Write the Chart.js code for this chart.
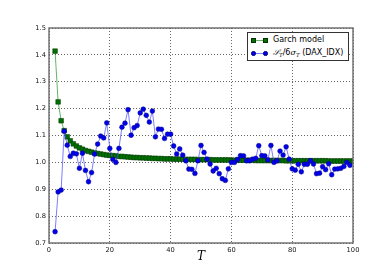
<!DOCTYPE html>
<html>
<head>
<meta charset="utf-8">
<script src="https://cdn.jsdelivr.net/npm/chart.js@4.4.1/dist/chart.umd.min.js"></script>
<style>
  html, body { margin: 0; padding: 0; background: #fff; }
  #wrap { position: relative; width: 392px; height: 278px; }
  #legend {
    position: absolute; left: 247px; top: 32px; width: 102px; height: 29px;
    box-sizing: border-box; border: 1px solid #333; background: #fff;
    font-family: 'DejaVu Sans', sans-serif; font-size: 8px; color: #000;
  }
  .sample { position: absolute; left: 5px; width: 12px; height: 1px; }
  .mk { position: absolute; width: 4.5px; height: 4.5px; box-sizing: border-box; }
  .lbl { position: absolute; left: 25px; line-height: 10px; white-space: nowrap; }
  .m { font-family: 'DejaVu Serif', serif; font-style: italic; }
  sub { font-size: 5.5px; vertical-align: -2px; }
</style>
</head>
<body>
<div id="wrap">
  <canvas id="chart" width="392" height="278"></canvas>
  <div id="legend">
    <div class="sample" style="top:7px;background:rgba(0,128,0,0.6)"></div>
    <div class="mk" style="left:3px;top:5px;background:#007000;border:0.6px solid #003300"></div>
    <div class="mk" style="left:15px;top:5px;background:#007000;border:0.6px solid #003300"></div>
    <div class="lbl" style="top:2px">Garch model</div>

    <div class="sample" style="top:20px;background:rgba(70,70,255,0.7)"></div>
    <div class="mk" style="left:3px;top:18px;background:#0000ee;border:0.6px solid #000080;border-radius:50%"></div>
    <div class="mk" style="left:15px;top:18px;background:#0000ee;border:0.6px solid #000080;border-radius:50%"></div>
    <div class="lbl" style="top:15px"><span class="m">𝒮</span><sub class="m">T</sub>/6<span class="m">σ</span><sub class="m">T</sub> (DAX_IDX)</div>
  </div>
</div>
<script>
// horizon T
const steps = [
  2, 3, 4, 5, 6, 7, 8, 9, 10, 11,
  12, 13, 14, 15, 16, 17, 18, 19, 20, 21,
  22, 23, 24, 25, 26, 27, 28, 29, 30, 31,
  32, 33, 34, 35, 36, 37, 38, 39, 40, 41,
  42, 43, 44, 45, 46, 47, 48, 49, 50, 51,
  52, 53, 54, 55, 56, 57, 58, 59, 60, 61,
  62, 63, 64, 65, 66, 67, 68, 69, 70, 71,
  72, 73, 74, 75, 76, 77, 78, 79, 80, 81,
  82, 83, 84, 85, 86, 87, 88, 89, 90, 91,
  92, 93, 94, 95, 96, 97, 98, 99, 100
];

// Garch model (T = 2..100)
const garchValues = [
  1.414, 1.225, 1.155, 1.118, 1.095, 1.080, 1.069, 1.061, 1.054, 1.049,
  1.044, 1.041, 1.038, 1.035, 1.033, 1.031, 1.029, 1.027, 1.026, 1.025,
  1.024, 1.022, 1.022, 1.021, 1.020, 1.019, 1.018, 1.018, 1.017, 1.017,
  1.016, 1.016, 1.015, 1.015, 1.014, 1.014, 1.013, 1.013, 1.013, 1.012,
  1.012, 1.012, 1.012, 1.011, 1.011, 1.011, 1.011, 1.010, 1.010, 1.010,
  1.010, 1.010, 1.009, 1.009, 1.009, 1.009, 1.009, 1.009, 1.008, 1.008,
  1.008, 1.008, 1.008, 1.008, 1.008, 1.008, 1.007, 1.007, 1.007, 1.007,
  1.007, 1.007, 1.007, 1.007, 1.007, 1.007, 1.006, 1.006, 1.006, 1.006,
  1.006, 1.006, 1.006, 1.006, 1.006, 1.006, 1.006, 1.006, 1.006, 1.006,
  1.005, 1.005, 1.005, 1.005, 1.005, 1.005, 1.005, 1.005, 1.005
];

// S_T / 6 sigma_T for DAX_IDX (T = 2..99)
const daxValues = [
  0.742, 0.890, 0.897, 1.116, 1.064, 1.022, 1.034, 1.032, 0.978, 1.034,
  0.970, 0.928, 0.962, 1.031, 1.068, 1.098, 1.091, 1.147, 1.052, 1.011,
  1.000, 1.052, 1.131, 1.146, 1.196, 1.101, 1.129, 1.137, 1.184, 1.198,
  1.175, 1.150, 1.191, 1.095, 1.124, 1.123, 1.089, 1.105, 1.105, 1.061,
  1.031, 1.050, 1.027, 1.006, 0.975, 0.974, 0.959, 1.006, 1.063, 1.037,
  1.012, 0.994, 0.968, 0.978, 0.958, 0.939, 0.933, 0.976, 1.000, 1.000,
  1.011, 1.025, 1.024, 1.006, 1.006, 1.012, 1.015, 1.062, 1.025, 1.024,
  1.009, 1.063, 1.000, 1.006, 1.042, 1.027, 1.058, 1.012, 0.976, 0.971,
  0.993, 0.965, 0.993, 0.993, 1.006, 0.994, 0.958, 0.960, 0.984, 0.973,
  0.995, 0.954, 0.975, 0.976, 0.978, 0.985, 1.000, 0.989
];

const xTicks = [0, 20, 40, 60, 80, 100];
const yTicks = [0.7, 0.8, 0.9, 1.0, 1.1, 1.2, 1.3, 1.4, 1.5];

const tickFont = { family: 'DejaVu Sans', size: 6.7 };

// box round the plot area, like matplotlib's spines
const framePlugin = {
  id: 'frame',
  afterDatasetsDraw(chart) {
    const { ctx, chartArea: a } = chart;
    ctx.save();
    ctx.strokeStyle = '#6a6a6a';
    ctx.lineWidth = 1.4;
    ctx.strokeRect(a.left, a.top, a.right - a.left, a.bottom - a.top);
    ctx.restore();
  }
};

const gridOpts = {
  color: 'rgba(0,0,0,0.6)',
  lineWidth: 1,
  drawTicks: false,
};

new Chart(document.getElementById('chart'), {
  type: 'line',
  data: {
    datasets: [
      {
        label: 'Garch model',
        data: steps.map((t, i) => ({ x: t, y: garchValues[i] })),
        borderColor: 'rgba(0,128,0,0.6)',
        borderWidth: 1,
        pointStyle: 'rect',
        pointRadius: 3.3,
        pointBackgroundColor: '#007000',
        pointBorderColor: '#003300',
        pointBorderWidth: 0.5,
        order: 2,
      },
      {
        label: 'S_T/6σ_T (DAX_IDX)',
        data: daxValues.map((v, i) => ({ x: steps[i], y: v })),
        borderColor: 'rgba(70,70,255,0.7)',
        borderWidth: 1,
        pointStyle: 'circle',
        pointRadius: 2.4,
        pointBackgroundColor: '#0000ee',
        pointBorderColor: '#000080',
        pointBorderWidth: 0.5,
        order: 1,
      }
    ]
  },
  options: {
    responsive: false,
    animation: false,
    devicePixelRatio: 1,
    layout: { padding: { top: 28, right: 39, left: 0, bottom: 0 } },
    plugins: {
      legend: { display: false },
      tooltip: { enabled: false },
    },
    scales: {
      x: {
        type: 'linear',
        min: 0,
        max: 100,
        afterFit(scale) { scale.height = 35; },
        afterBuildTicks(scale) { scale.ticks = xTicks.map(v => ({ value: v })); },
        grid: gridOpts,
        border: { display: false, dash: [1, 2] },
        ticks: { color: '#111', font: tickFont, padding: 3 },
        title: {
          display: true,
          text: 'T',
          color: '#000',
          font: { family: 'DejaVu Serif', size: 12, style: 'italic' },
          padding: { top: 0, bottom: 14 },
        }
      },
      y: {
        min: 0.7,
        max: 1.5,
        afterFit(scale) { scale.width = 49; },
        afterBuildTicks(scale) { scale.ticks = yTicks.map(v => ({ value: v })); },
        grid: gridOpts,
        border: { display: false, dash: [1, 2] },
        ticks: {
          color: '#111',
          font: tickFont,
          padding: 3,
          callback: v => v.toFixed(1),
        }
      }
    }
  },
  plugins: [framePlugin]
});
</script>
</body>
</html>
